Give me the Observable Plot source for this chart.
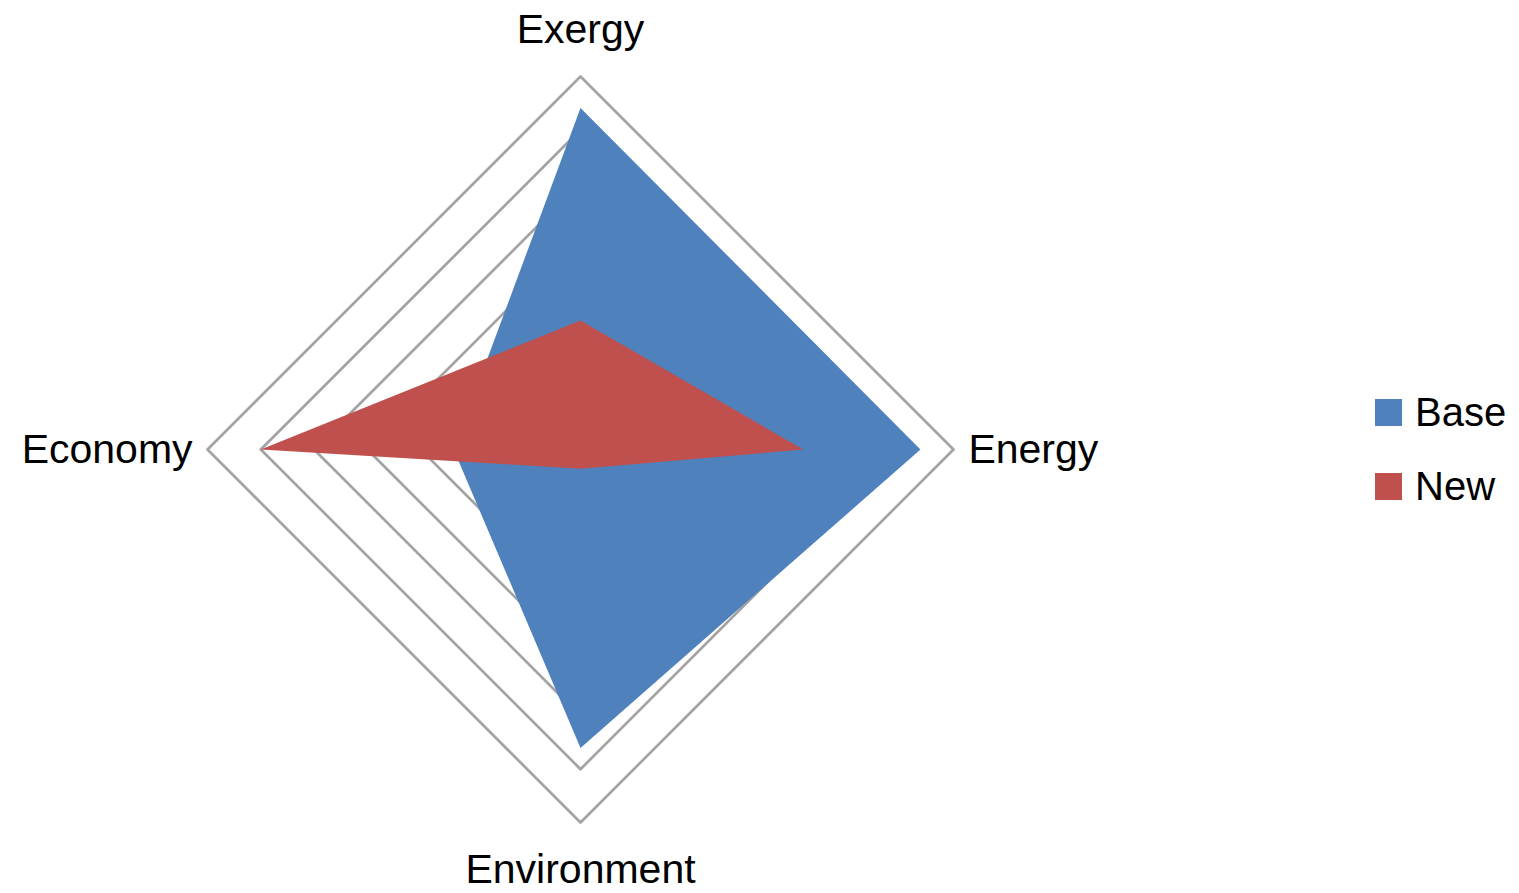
<!DOCTYPE html>
<html>
<head>
<meta charset="utf-8">
<script src="https://cdn.jsdelivr.net/npm/d3@7"></script>
<script src="https://cdn.jsdelivr.net/npm/@observablehq/plot@0.6"></script>
<style>
  html, body { margin: 0; padding: 0; background: #fff; }
  #wrap { position: relative; width: 1519px; height: 893px; font-family: "Liberation Sans", Arial, sans-serif; }
  #legend { position: absolute; left: 1375px; top: 392px; }
  .item { display: flex; align-items: center; height: 40px; margin-bottom: 34px; font-size: 40px; color: #000; }
  .sw { width: 27px; height: 27px; margin-right: 13px; }
</style>
</head>
<body>
<div id="wrap"><div id="chart"></div><div id="legend"></div></div>
<script>
const categories = ["Exergy", "Energy", "Environment", "Economy"];
const seriesNames = ["Base", "New"];
const baseValues = [6.41, 6.38, 5.6, 2.38];
const newValues = [2.42, 4.18, 0.36, 6.0];
const ringLevels = [1, 2, 3, 4, 5, 6, 7];
const colors = ["#4f81bd", "#c0504d"];

const n = categories.length;
const ang = i => (i % n) * 2 * Math.PI / n;
const px = (v, i) => v * Math.sin(ang(i));
const py = (v, i) => v * Math.cos(ang(i));

// closed polygons
const ringData = ringLevels.flatMap(r => d3.range(n + 1).map(i => ({r, x: px(r, i), y: py(r, i)})));
const seriesData = [baseValues, newValues].map((vals, s) =>
  d3.range(n + 1).map(i => ({series: seriesNames[s], x: px(vals[i % n], i), y: py(vals[i % n], i)})));

const maxR = d3.max(ringLevels);
const unit = 373 / maxR;
const cx = 580, cy = 449, W = 1519, H = 893;
const topBottomR = 7.88, sideR = 7.28;
const labels = categories.map((c, i) => ({c, i,
  x: px(i % 2 === 0 ? topBottomR : sideR, i),
  y: py(i % 2 === 0 ? topBottomR : sideR, i)}));

const chart = Plot.plot({
  width: W, height: H,
  margin: 0,
  x: {domain: [-cx / unit, (W - cx) / unit], range: [0, W], axis: null},
  y: {domain: [-(H - cy) / unit, cy / unit], range: [H, 0], axis: null},
  style: {fontFamily: '"Liberation Sans", Arial, sans-serif', background: "#fff"},
  marks: [
    Plot.line(ringData, {x: "x", y: "y", z: "r", stroke: "#a3a3a3", strokeWidth: 2.7, curve: "linear"}),
    Plot.line(seriesData[0], {x: "x", y: "y", fill: colors[0], stroke: "none"}),
    Plot.line(seriesData[1], {x: "x", y: "y", fill: colors[1], stroke: "none"}),
    Plot.text(labels.filter(d => d.i % 2 === 0), {x: "x", y: "y", text: "c", textAnchor: "middle", lineAnchor: "middle", fontSize: 41, fill: "#000"}),
    Plot.text(labels.filter(d => d.i === 1), {x: "x", y: "y", text: "c", textAnchor: "start", lineAnchor: "middle", fontSize: 41, fill: "#000"}),
    Plot.text(labels.filter(d => d.i === 3), {x: "x", y: "y", text: "c", textAnchor: "end", lineAnchor: "middle", fontSize: 41, fill: "#000"})
  ]
});
document.getElementById("chart").appendChild(chart);

const legend = document.getElementById("legend");
seriesNames.forEach((s, k) => {
  const it = document.createElement("div");
  it.className = "item";
  it.innerHTML = `<div class="sw" style="background:${colors[k]}"></div><span>${s}</span>`;
  legend.appendChild(it);
});
</script>
</body>
</html>
